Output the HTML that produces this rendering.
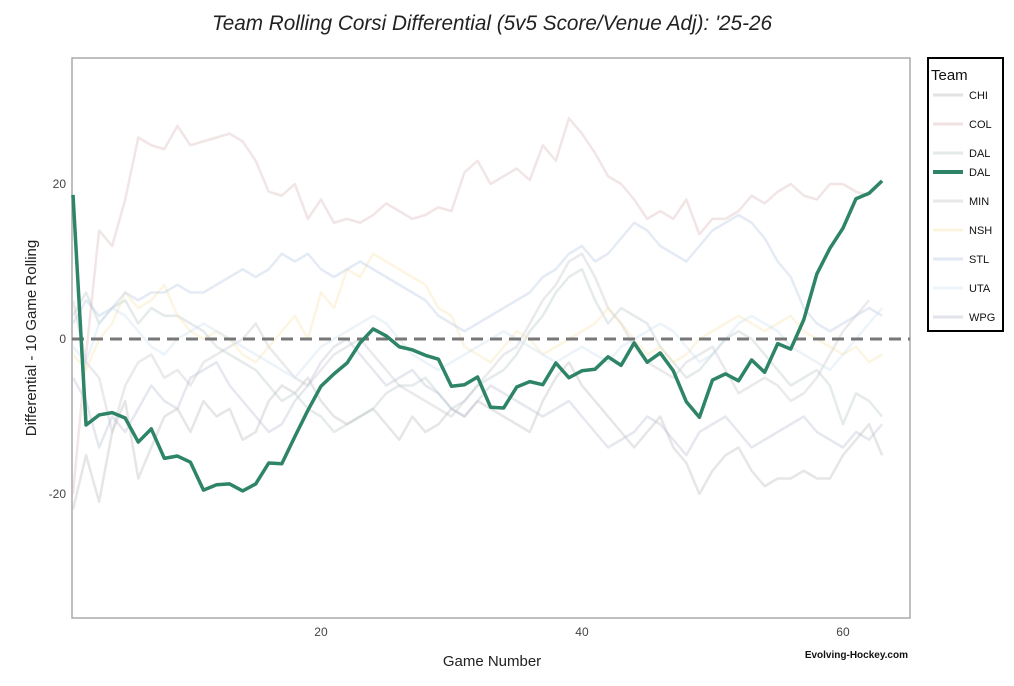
<!DOCTYPE html>
<html><head><meta charset="utf-8"><style>
body{margin:0;background:#fff;font-family:"Liberation Sans",sans-serif}
svg text{font-family:"Liberation Sans",sans-serif}
</style></head><body>
<svg id="chart" width="1014" height="681" xmlns="http://www.w3.org/2000/svg">
<text x="492" y="30" text-anchor="middle" font-size="21" font-style="italic" fill="#222" textLength="560" lengthAdjust="spacingAndGlyphs">Team Rolling Corsi Differential (5v5 Score/Venue Adj): '25-26</text>
<rect x="72" y="58" width="838" height="560" fill="#fff" stroke="#aaa" stroke-width="1.5"/>
<g id="ticks"></g>
<g id="lines"></g>
<line x1="72" x2="910" id="zero" stroke="#777" stroke-width="3" stroke-dasharray="12,7"/>
<g id="main"></g>
<text x="492" y="666" text-anchor="middle" font-size="15" fill="#222">Game Number</text>
<text transform="translate(36,338) rotate(-90)" text-anchor="middle" font-size="15" fill="#222">Differential - 10 Game Rolling</text>
<text x="908" y="658" text-anchor="end" font-size="10" font-weight="bold" fill="#111">Evolving-Hockey.com</text>
<g>
<rect x="928" y="58" width="75" height="273" fill="#fff" stroke="#000" stroke-width="2"/>
<text x="931" y="80" font-size="15" fill="#111">Team</text>
<g id="legend"></g>
</g>
</svg>
<script>
const games=[];for(let i=1;i<=63;i++)games.push(i);
const xTicks=[20,40,60];
const yTicks=[-20,0,20];
const dalMain=[18.6,-11.1,-9.8,-9.5,-10.2,-13.3,-11.6,-15.4,-15.1,-15.9,-19.5,-18.8,-18.7,-19.6,-18.7,-16,-16.1,-12.6,-9.2,-6.1,-4.5,-3.1,-0.5,1.3,0.4,-1,-1.4,-2.1,-2.6,-6.1,-5.9,-4.9,-8.8,-8.9,-6.2,-5.5,-5.9,-3.1,-5,-4.1,-3.9,-2.3,-3.4,-0.5,-3,-1.8,-4.1,-8.1,-10.1,-5.3,-4.5,-5.4,-2.7,-4.3,-0.6,-1.3,2.5,8.4,11.7,14.3,18.1,18.8,20.4];
const col=[-20,-2,14,12,18,26,25,24.5,27.5,25,25.5,26,26.5,25.5,23,19,18.5,20,15.5,18,15,15.5,15,16,17.5,16.5,15.5,16,17,16.5,21.5,23,20,21,22,20.5,25,23,28.5,26.5,24,21,20,18,15.5,16.5,15.5,18,13.5,15.5,15.5,16.5,18.5,17.5,19,20,18.5,18,20,20,19,18.5];
const chi=[-22,-15,-21,-12,-8,-18,-14,-10,-9,-12,-8,-10,-9,-13,-12,-8,-6,-7,-5,-8,-10,-11,-10,-9,-11,-13,-10,-12,-11,-9,-10,-8,-9,-10,-11,-12,-8,-5,-3,-6,-8,-10,-12,-14,-12,-10,-14,-16,-20,-17,-15,-14,-17,-19,-18,-18,-17,-18,-18,-15,-13,-11,-15,-10];
const dal2=[3,6,2,4,5,2,4,3,3,2,1,-1,-2,-3,-4,-6,-8,-7,-9,-10,-12,-11,-10,-9,-7,-6,-6,-5,-7,-9,-8,-6,-5,-4,-2,1,3,6,8,9,5,2,4,3,2,-1,-3,-5,-4,-2,0,1,0,-2,-4,-6,-5,-4,-6,-11,-7,-8,-10];
const min=[5,-3,-5,-12,-6,-3,-2,-5,-4,-6,-3,-2,-1,0,2,-1,-3,-5,-6,-4,-2,-1,0,-2,-4,-6,-7,-8,-9,-10,-8,-6,-4,-2,-1,2,5,7,10,11,8,4,2,-1,-3,-4,-5,-3,-2,-1,-4,-7,-6,-5,-6,-8,-7,-5,-2,1,3,5];
const nsh=[-2,-4,0,2,6,4,5,7,3,1,0,1,0,-2,-3,-1,1,3,0,6,4,9,8,11,10,9,8,7,4,3,-1,-2,-3,-1,1,0,-2,-1,0,1,2,4,2,0,-2,-1,-3,-2,0,1,2,3,2,1,2,3,1,0,-1,-2,-1,-3,-2];
const stl=[2,5,3,4,6,5,6,6,7,6,6,7,8,9,8,9,11,10,11,9,8,9,10,9,8,7,6,5,3,2,1,2,3,4,5,6,8,9,11,12,10,11,13,15,14,12,11,10,12,14,15,16,15,13,10,8,4,2,1,2,3,4,3];
const uta=[-1,-3,2,4,3,1,-1,-2,0,1,2,1,0,-1,-2,-3,-4,-5,-3,-1,0,1,2,3,2,0,-2,-3,-4,-3,-2,-1,0,1,0,-1,-2,-3,-2,-1,-2,-3,-1,0,1,2,1,-1,-3,-2,0,2,3,2,1,-1,-2,-3,-4,-2,0,2,4];
const wpg=[-5,-8,-14,-10,-12,-9,-6,-8,-9,-5,-4,-3,-6,-8,-10,-12,-11,-8,-6,-3,-1,0,-2,-4,-6,-5,-4,-6,-7,-9,-10,-8,-6,-7,-8,-9,-10,-9,-8,-10,-12,-14,-13,-12,-10,-11,-13,-15,-12,-11,-10,-12,-14,-13,-12,-11,-10,-12,-13,-14,-12,-13,-11];
const x=g=>73+(g-1)*(843-321)/40;
const y=v=>339-v*7.75;
const ns="http://www.w3.org/2000/svg";
const tg=document.getElementById('ticks');
xTicks.forEach(t=>{const e=document.createElementNS(ns,'text');e.setAttribute('x',x(t));e.setAttribute('y',636);e.setAttribute('text-anchor','middle');e.setAttribute('font-size','12');e.setAttribute('fill','#444');e.textContent=t;


tg.appendChild(e);});
yTicks.forEach(t=>{const e=document.createElementNS(ns,'text');e.setAttribute('x',66);e.setAttribute('y',y(t)+4);e.setAttribute('text-anchor','end');e.setAttribute('font-size','12');e.setAttribute('fill','#444');e.textContent=t;


tg.appendChild(e);});
const z=document.getElementById('zero');z.setAttribute('y1',y(0));z.setAttribute('y2',y(0));
function line(parent,vals,color,w,op,name){const p=document.createElementNS(ns,'polyline');
p.setAttribute('points',vals.map((v,i)=>x(games[i])+','+y(v)).join(' '));
p.setAttribute('fill','none');p.setAttribute('stroke',color);p.setAttribute('stroke-width',w);p.setAttribute('stroke-opacity',op);p.setAttribute('stroke-linejoin','round');


parent.appendChild(p);}
const lg=document.getElementById('lines');
line(lg,chi,'#b8b8b8',2.5,0.35,'line-chi');
line(lg,col,'#d9b4b4',2.5,0.35,'line-col');
line(lg,dal2,'#b5c5c5',2.5,0.35,'line-dal-other');
line(lg,min,'#c4c4cc',2.5,0.35,'line-min');
line(lg,nsh,'#f5e1a8',2.5,0.35,'line-nsh');
line(lg,stl,'#b5c6e3',2.5,0.35,'line-stl');
line(lg,uta,'#c9dff0',2.5,0.35,'line-uta');
line(lg,wpg,'#b8bcd0',2.5,0.35,'line-wpg');
line(document.getElementById('main'),dalMain,'#2e8466',3.5,1,'line-dal-highlight');
const leg=[['CHI','#e2e2e2',3],['COL','#f0e2e2',3],['DAL','#e2eaea',3],['DAL','#2e8466',4],['MIN','#e6e8ea',3],['NSH','#fdf4e0',3],['STL','#e2e8f4',3],['UTA','#eef4fa',3],['WPG','#e2e3ea',3]];
const L=document.getElementById('legend');
const ly=[95,124,153,172,201,230,259,288,317];
leg.forEach((d,i)=>{const l=document.createElementNS(ns,'line');l.setAttribute('x1',933);l.setAttribute('x2',963);l.setAttribute('y1',ly[i]);l.setAttribute('y2',ly[i]);l.setAttribute('stroke',d[1]);l.setAttribute('stroke-width',d[2]);


L.appendChild(l);
const t=document.createElementNS(ns,'text');t.setAttribute('x',969);t.setAttribute('y',ly[i]+4);t.setAttribute('font-size','11');t.setAttribute('fill','#111');t.textContent=d[0];


L.appendChild(t);});
</script>
</body></html>
